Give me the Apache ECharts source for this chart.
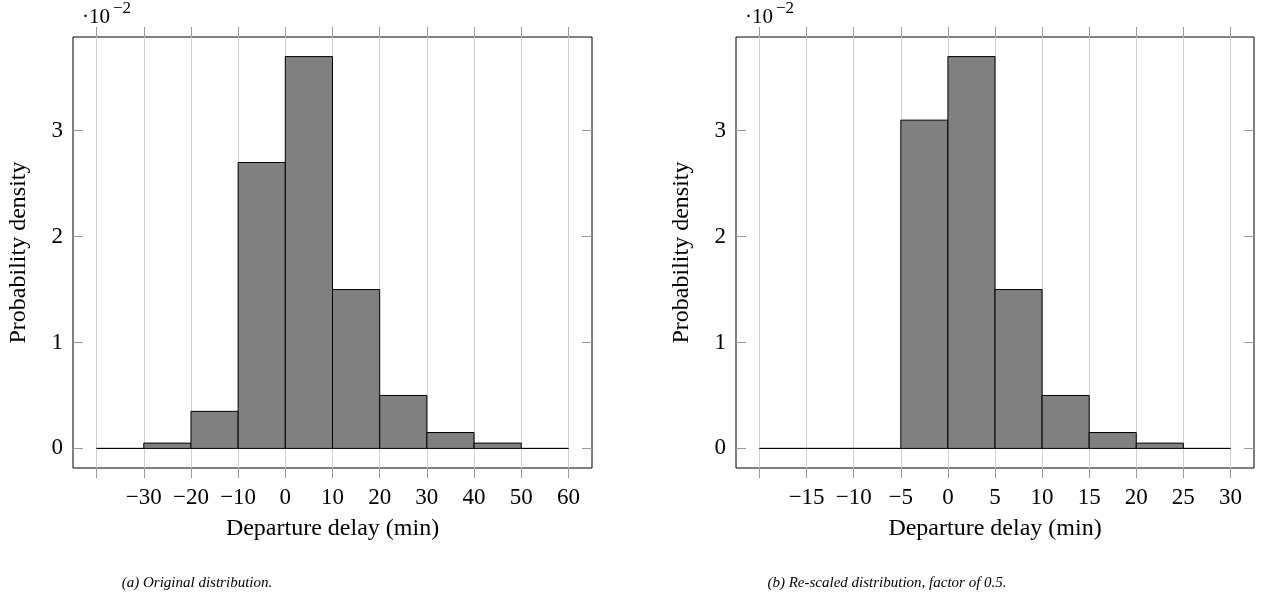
<!DOCTYPE html>
<html>
<head>
<meta charset="utf-8">
<script src="https://cdn.jsdelivr.net/npm/echarts@6.0.0/dist/echarts.min.js"></script>
<style>
  html, body { margin: 0; padding: 0; background: #fff; }
  #hist { width: 1272px; height: 608px; }
</style>
</head>
<body>
<div id="hist"></div>
<script>
// bin edges (min) and probability density (x 10^-2)
var edgesA = [-40, -30, -20, -10, 0, 10, 20, 30, 40, 50, 60];
var densityA = [0, 0.05, 0.35, 2.7, 3.7, 1.5, 0.5, 0.15, 0.05, 0];
var edgesB = [-20, -15, -10, -5, 0, 5, 10, 15, 20, 25, 30];
var densityB = [0, 0, 0, 3.1, 3.7, 1.5, 0.5, 0.15, 0.05, 0];

var xTicksA = [-40, -30, -20, -10, 0, 10, 20, 30, 40, 50, 60];
var xLabelsA = [-30, -20, -10, 0, 10, 20, 30, 40, 50, 60];
var xTicksB = [-20, -15, -10, -5, 0, 5, 10, 15, 20, 25, 30];
var xLabelsB = [-15, -10, -5, 0, 5, 10, 15, 20, 25, 30];
var yTicks = [0, 1, 2, 3];

var captions = ['(a) Original distribution.', '(b) Re-scaled distribution, factor of 0.5.'];

var serif = '"Liberation Serif", "DejaVu Serif", serif';

function bins(edges, values) {
    var out = [];
    for (var i = 0; i < values.length; i++) {
        out.push([edges[i], edges[i + 1], values[i]]);
    }
    return out;
}

function renderBin(params, api) {
    var top = api.coord([api.value(0), api.value(2)]);
    var bottom = api.coord([api.value(1), 0]);
    return {
        type: 'rect',
        shape: { x: top[0], y: top[1], width: bottom[0] - top[0], height: bottom[1] - top[1] },
        style: { fill: '#808080', stroke: '#000', lineWidth: 1 }
    };
}

function minus(v) {
    return String(v).replace('-', '\u2212');
}

function xAxes(idx, min, max, ticks, labels) {
    return [
        {
            type: 'value', gridIndex: idx, position: 'bottom', min: min, max: max,
            axisLine: { show: false, onZero: false },
            axisTick: { show: true, inside: false, length: 10, customValues: ticks, lineStyle: { color: '#999' } },
            axisLabel: { customValues: labels, formatter: minus, margin: 18, color: '#000', fontSize: 23, fontFamily: serif },
            splitLine: { show: true, lineStyle: { color: '#d0d0d0', width: 1 } },
            name: 'Departure delay (min)', nameLocation: 'middle', nameGap: 49,
            nameTextStyle: { color: '#000', fontSize: 24, fontFamily: serif }
        },
        {
            type: 'value', gridIndex: idx, position: 'top', min: min, max: max,
            axisLine: { show: false, onZero: false },
            axisTick: { show: true, inside: false, length: 10, customValues: ticks, lineStyle: { color: '#999' } },
            axisLabel: { show: false },
            splitLine: { show: false }
        }
    ];
}

function yAxes(idx) {
    return [
        {
            type: 'value', gridIndex: idx, position: 'left', min: -0.185, max: 3.885,
            axisLine: { show: false, onZero: false },
            axisTick: { show: true, inside: true, length: 10, customValues: yTicks, lineStyle: { color: '#999' } },
            axisLabel: { customValues: yTicks, margin: 10, color: '#000', fontSize: 23, fontFamily: serif },
            splitLine: { show: false },
            name: 'Probability density', nameLocation: 'middle', nameGap: 42, nameRotate: 90,
            nameTextStyle: { color: '#000', fontSize: 24, fontFamily: serif }
        },
        {
            type: 'value', gridIndex: idx, position: 'right', min: -0.185, max: 3.885,
            axisLine: { show: false, onZero: false },
            axisTick: { show: true, inside: true, length: 10, customValues: yTicks, lineStyle: { color: '#999' } },
            axisLabel: { show: false },
            splitLine: { show: false }
        }
    ];
}

function exponent(left) {
    return [
        { type: 'text', left: left, top: 7, style: { text: '\u00b710', fill: '#000', font: '21px ' + serif } },
        { type: 'text', left: left + 31, top: 0, style: { text: '\u22122', fill: '#000', font: '17px ' + serif } }
    ];
}

var chart = echarts.init(document.getElementById('hist'));

var option = {
    animation: false,
    backgroundColor: '#fff',
    grid: [
        { left: 73, top: 37, width: 519, height: 431, show: true, borderColor: '#000', borderWidth: 1 },
        { left: 736, top: 37, width: 518, height: 431, show: true, borderColor: '#000', borderWidth: 1 }
    ],
    xAxis: xAxes(0, -45, 65, xTicksA, xLabelsA).concat(xAxes(1, -22.5, 32.5, xTicksB, xLabelsB)),
    yAxis: yAxes(0).concat(yAxes(1)),
    series: [
        {
            type: 'custom', xAxisIndex: 0, yAxisIndex: 0,
            renderItem: renderBin, encode: { x: [0, 1], y: 2 },
            data: bins(edgesA, densityA)
        },
        {
            type: 'custom', xAxisIndex: 2, yAxisIndex: 2,
            renderItem: renderBin, encode: { x: [0, 1], y: 2 },
            data: bins(edgesB, densityB)
        }
    ],
    graphic: exponent(82).concat(exponent(745)).concat([
        {
            type: 'text', x: 197, y: 583,
            style: { text: captions[0], fill: '#000', font: 'italic 15px ' + serif, align: 'center', verticalAlign: 'middle' }
        },
        {
            type: 'text', x: 887, y: 583,
            style: { text: captions[1], fill: '#000', font: 'italic 15px ' + serif, align: 'center', verticalAlign: 'middle' }
        }
    ])
};

chart.setOption(option);
</script>
</body>
</html>
